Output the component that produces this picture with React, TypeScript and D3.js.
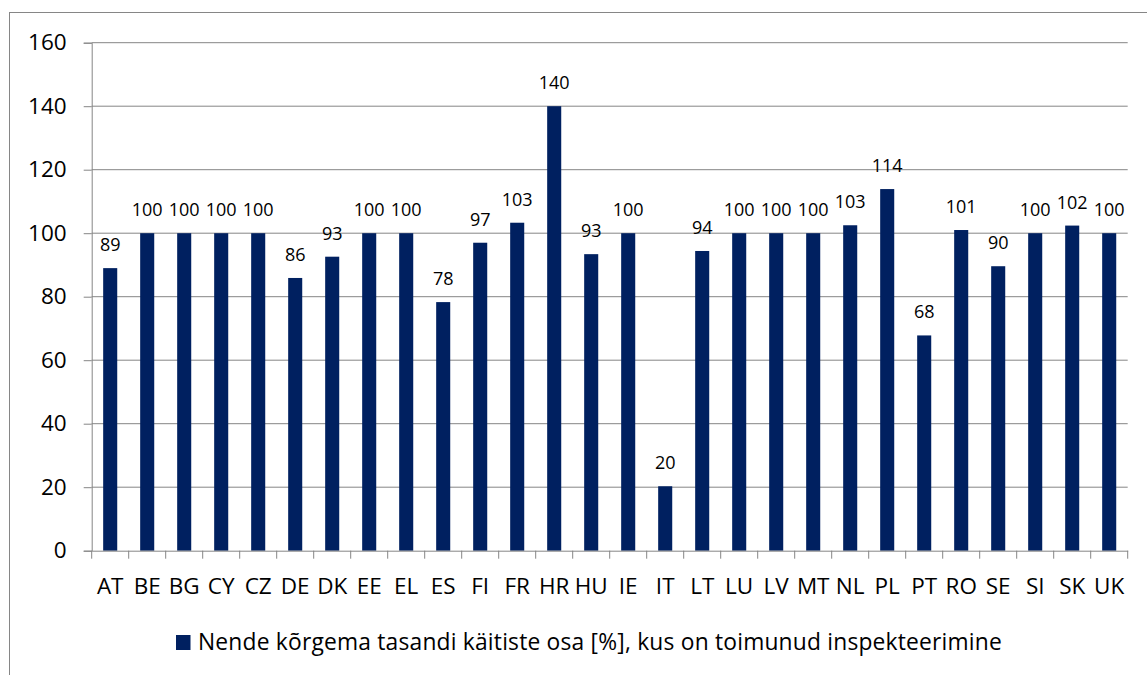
import React, { useEffect, useRef } from 'react';
import * as d3 from 'd3';

const countries = [
  'AT', 'BE', 'BG', 'CY', 'CZ', 'DE', 'DK', 'EE', 'EL', 'ES', 'FI', 'FR', 'HR', 'HU',
  'IE', 'IT', 'LT', 'LU', 'LV', 'MT', 'NL', 'PL', 'PT', 'RO', 'SE', 'SI', 'SK', 'UK',
];
const shares = [
  89, 100, 100, 100, 100, 85.9, 92.6, 100, 100, 78.3, 97, 103.3, 140, 93.4,
  100, 20.3, 94.4, 100, 100, 100, 102.5, 113.9, 67.8, 101, 89.6, 100, 102.4, 100,
];
const yTicks = [0, 20, 40, 60, 80, 100, 120, 140, 160];
const seriesName = 'Nende kõrgema tasandi käitiste osa [%], kus on toimunud inspekteerimine';

const FONT = "'Open Sans', sans-serif";
const BAR = '#002060';
const GRID = '#868686';

export default function App() {
  const svgRef = useRef<SVGSVGElement>(null);

  useEffect(() => {
    const width = 1147;
    const height = 675;
    const margin = { top: 42.7, right: 19.3, bottom: 124.3, left: 91.7 };

    const svg = d3.select(svgRef.current);
    svg.selectAll('*').remove();

    // outer chart border (runs off the page at right and bottom)
    svg
      .append('rect')
      .attr('x', 9.5)
      .attr('y', 12.5)
      .attr('width', 1200)
      .attr('height', 700)
      .attr('fill', 'none')
      .attr('stroke', GRID)
      .attr('stroke-width', 1);

    const x = d3
      .scaleBand()
      .domain(countries)
      .range([margin.left, width - margin.right]);

    const y = d3
      .scaleLinear()
      .domain([0, 160])
      .range([height - margin.bottom, margin.top]);

    // gridlines
    svg
      .append('g')
      .selectAll('line')
      .data(yTicks.filter((d) => d > 0))
      .join('line')
      .attr('x1', margin.left)
      .attr('x2', width - margin.right)
      .attr('y1', (d) => y(d))
      .attr('y2', (d) => y(d))
      .attr('stroke', GRID)
      .attr('stroke-width', 1);

    // y axis
    const yAxis = svg
      .append('g')
      .attr('transform', `translate(${margin.left},0)`)
      .call(d3.axisLeft(y).tickValues(yTicks).tickSize(8).tickPadding(17).tickFormat(d3.format('d')));
    yAxis.select('.domain').attr('stroke', GRID);
    yAxis.selectAll('line').attr('stroke', GRID);
    yAxis
      .selectAll('text')
      .attr('font-family', FONT)
      .attr('font-size', 22.5)
      .attr('fill', '#000');

    // bars
    const barW = x.bandwidth() * 0.38;
    svg
      .append('g')
      .selectAll('rect')
      .data(shares)
      .join('rect')
      .attr('x', (d, i) => x(countries[i])! + (x.bandwidth() - barW) / 2)
      .attr('y', (d) => y(d))
      .attr('width', barW)
      .attr('height', (d) => y(0) - y(d))
      .attr('fill', BAR);

    // data labels
    svg
      .append('g')
      .attr('font-family', FONT)
      .attr('font-size', 18)
      .attr('text-anchor', 'middle')
      .selectAll('text')
      .data(shares)
      .join('text')
      .attr('x', (d, i) => x(countries[i])! + x.bandwidth() / 2)
      .attr('y', (d) => y(d) - 17)
      .text((d) => Math.round(d));

    // x axis
    const xAxis = svg
      .append('g')
      .attr('transform', `translate(0,${y(0)})`)
      .call(d3.axisBottom(x).tickSize(0).tickPadding(27));
    xAxis.select('.domain').attr('stroke', GRID);
    xAxis
      .selectAll('text')
      .attr('font-family', FONT)
      .attr('font-size', 22.5)
      .attr('fill', '#000');
    // category separators
    svg
      .append('g')
      .selectAll('line')
      .data([...countries.map((c) => x(c)!), width - margin.right])
      .join('line')
      .attr('x1', (d) => d)
      .attr('x2', (d) => d)
      .attr('y1', y(0))
      .attr('y2', y(0) + 8)
      .attr('stroke', GRID);

    // legend
    const legend = svg.append('g').attr('transform', 'translate(176,635)');
    legend.append('rect').attr('width', 14.5).attr('height', 15).attr('fill', BAR);
    legend
      .append('text')
      .attr('x', 22)
      .attr('y', 15)
      .attr('font-family', FONT)
      .attr('font-size', 22.8)
      .attr('letter-spacing', 0.2)
      .text(seriesName);
  }, []);

  return (
    <div style={{ position: 'absolute', left: 0, top: 0 }}>
      <svg ref={svgRef} width={1147} height={675} style={{ display: 'block', background: '#fff' }}></svg>
    </div>
  );
}
